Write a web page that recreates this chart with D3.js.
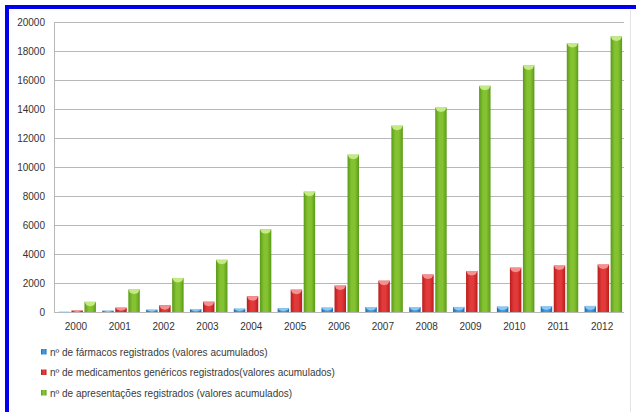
<!DOCTYPE html>
<html><head><meta charset="utf-8">
<script src="https://cdn.jsdelivr.net/npm/d3@7"></script>
<style>html,body{margin:0;padding:0;background:#fff;}svg{display:block;}</style>
</head><body>
<script>
const years = ["2000","2001","2002","2003","2004","2005","2006","2007","2008","2009","2010","2011","2012"];
const farmacos = [10, 90, 160, 200, 230, 250, 300, 340, 340, 350, 370, 410, 420];
const genericos = [100, 300, 460, 710, 1080, 1540, 1820, 2160, 2580, 2830, 3060, 3200, 3270];
const apresentacoes = [700, 1550, 2350, 3600, 5700, 8300, 10850, 12850, 14100, 15600, 17000, 18550, 19000];
const yTicks = [0, 2000, 4000, 6000, 8000, 10000, 12000, 14000, 16000, 18000, 20000];
const seriesNames = [
  "nº de fármacos registrados (valores acumulados)",
  "nº de medicamentos genéricos registrados(valores acumulados)",
  "nº de apresentações registrados (valores acumulados)"
];
const seriesValues = [farmacos, genericos, apresentacoes];
const colors = [
  {dark:"#1a6fb8", mid:"#3d9ae0", light:"#8cc8f2"},
  {dark:"#b81c1c", mid:"#e23a3a", light:"#f59090"},
  {dark:"#5a9a18", mid:"#84c232", light:"#c4ea84"}
];

(function(){
const W = 636, H = 412;
const svg = d3.select("body").append("svg").attr("width", W).attr("height", H);
const defs = svg.append("defs");
colors.forEach((c, i) => {
  const g = defs.append("linearGradient").attr("id", "g" + i).attr("x1", "0%").attr("x2", "100%").attr("y1", "0%").attr("y2", "0%");
  g.append("stop").attr("offset", "0%").attr("stop-color", c.dark);
  g.append("stop").attr("offset", "35%").attr("stop-color", c.mid);
  g.append("stop").attr("offset", "65%").attr("stop-color", c.mid);
  g.append("stop").attr("offset", "100%").attr("stop-color", c.dark);
});

// border
svg.append("rect").attr("x", 5).attr("y", 5).attr("width", W - 5).attr("height", 4).attr("fill", "#0000ee");
svg.append("rect").attr("x", 5).attr("y", 5).attr("width", 4).attr("height", H - 5).attr("fill", "#0000ee");
svg.append("line").attr("x1", 630.5).attr("x2", 630.5).attr("y1", 10).attr("y2", 412).attr("stroke", "#e4e4e4");

const pl = 54, pr = 624, pt = 22, pb = 312;
const x = d3.scaleBand().domain(years).range([pl, pr]).padding(0);
const y = d3.scaleLinear().domain([0, 20000]).range([pb, pt]);
const inner = d3.scaleBand().domain([0, 1, 2]).range([-18.5, 19]).paddingInner(0.12);

// grid
svg.append("g").selectAll("line").data(yTicks).join("line")
  .attr("x1", pl).attr("x2", pr)
  .attr("y1", d => Math.round(y(d)) + 0.5).attr("y2", d => Math.round(y(d)) + 0.5)
  .attr("stroke", "#b8b8b8").attr("stroke-width", 1);
svg.append("line").attr("x1", pl + 0.5).attr("x2", pl + 0.5).attr("y1", pt).attr("y2", pb)
  .attr("stroke", "#b8b8b8");

// y axis labels
const yAxis = d3.axisLeft(y).tickValues(yTicks).tickSize(0).tickPadding(9).tickFormat(d3.format("d"));
const ya = svg.append("g").attr("transform", `translate(${pl},0)`).call(yAxis);
ya.select(".domain").remove();
ya.selectAll("text").attr("font-family", "Liberation Sans, Arial, sans-serif").attr("font-size", 10).attr("fill", "#333");

// x axis labels
const xAxis = d3.axisBottom(x).tickSize(0).tickPadding(11);
const xa = svg.append("g").attr("transform", `translate(0,${pb})`).call(xAxis);
xa.select(".domain").remove();
xa.selectAll("text").attr("font-family", "Liberation Sans, Arial, sans-serif").attr("font-size", 10).attr("fill", "#333");

// bars
seriesValues.forEach((vals, si) => {
  const g = svg.append("g");
  const bw = inner.bandwidth();
  const cx = d => x(years[d.i]) + x.bandwidth() / 2 + 1 + inner(si);
  const data = vals.map((v, i) => ({v, i}));
  g.selectAll("rect.b").data(data).join("rect").attr("class", "b")
    .attr("x", cx).attr("width", bw)
    .attr("y", d => y(d.v)).attr("height", d => pb - y(d.v))
    .attr("fill", `url(#g${si})`);
  g.selectAll("path.cap").data(data).join("path").attr("class", "cap")
    .attr("d", d => {
      const x0 = cx(d), yt = y(d.v);
      const h = Math.min(3.5, (pb - yt) / 2);
      return `M${x0},${yt}L${x0 + bw},${yt}L${x0 + bw - 2},${yt + h}L${x0 + bw / 2},${yt + h + 1}L${x0 + 2},${yt + h}Z`;
    })
    .attr("fill", colors[si].light);
});

// legend
const lg = svg.append("g");
seriesNames.forEach((name, i) => {
  const ly = 352 + i * 20.5;
  lg.append("rect").attr("x", 41).attr("y", ly - 3).attr("width", 5.5).attr("height", 5.5).attr("fill", `url(#g${i})`);
  lg.append("text").attr("x", 50).attr("y", ly + 3.5).text(name)
    .attr("font-family", "Liberation Sans, Arial, sans-serif").attr("font-size", 10).attr("fill", "#3a3a3a");
});
})();
</script>
</body></html>
